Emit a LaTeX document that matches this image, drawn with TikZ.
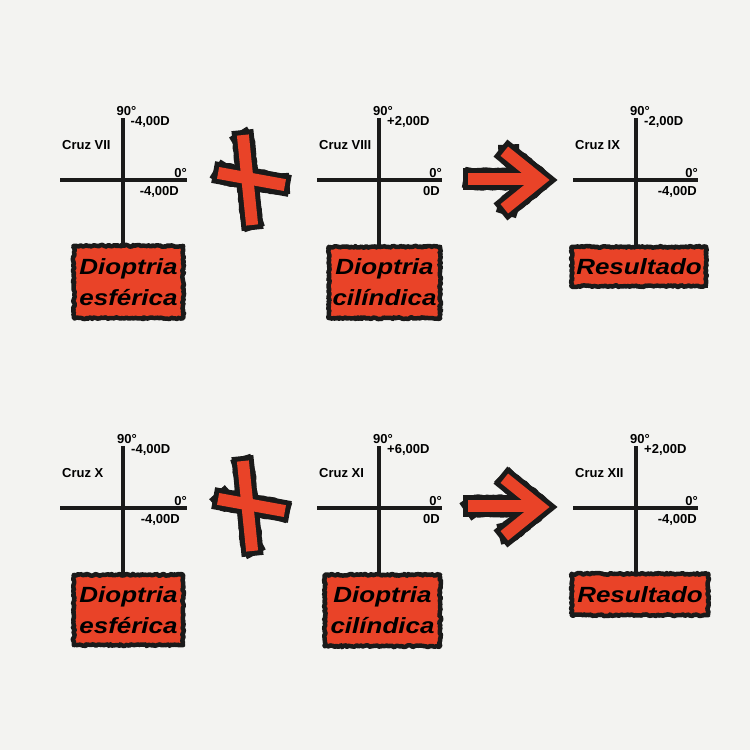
\documentclass[tikz,border=0pt]{standalone}
\usepackage{fontspec}
\usepackage{graphicx}
\setmainfont{Liberation Sans}
\usetikzlibrary{decorations.pathmorphing}

\definecolor{paper}{RGB}{243,243,241}
\definecolor{signred}{RGB}{233,67,40}
\definecolor{ink}{RGB}{26,26,26}

\tikzset{
  axis/.style={draw=ink, line width=4pt},
  lbl/.style={font=\fontsize{13}{15}\selectfont\bfseries, inner sep=0pt, text=black},
  tagbox/.style={fill=signred, inner sep=0pt, align=center,
    font=\fontsize{22}{31}\selectfont\bfseries\itshape},
  roughedge/.style={draw=ink, line width=4.5pt, line join=round,
    decorate, decoration={random steps, segment length=1.6pt, amplitude=0.9pt}},
  rim/.style={draw=ink, line width=22pt, line cap=rect, line join=miter},
  fuzz/.style={draw=ink, line width=21pt, line cap=rect, line join=round,
    decorate, decoration={random steps, segment length=1.5pt, amplitude=1.3pt}},
  core/.style={draw=signred, line width=12pt, line cap=rect, line join=miter},
}

% one lens cross: #1 id, #2 centre x, #3 centre y, #4 left end, #5 right end,
% #6 name, #7 value at 90 deg, #8 value at 0 deg, #9 right edge of that value
\newcommand\lenscross[9]{%
  \coordinate (#1c) at (#2,#3);
  \coordinate (#1l) at (#4,#3);
  \coordinate (#1r) at (#5,#3);
  \coordinate (#1t) at (#2,#3-62);
  \draw[axis] (#1l) -- (#1r);
  \node[lbl, anchor=base west] (#1a) at (#2-6,#3-65) {90°};
  \node[lbl, anchor=base west] (#1v) at (#2+8,#3-54.5) {#7};
  \node[lbl, anchor=base west] (#1n) at (#4+2,#3-31) {#6};
  \node[lbl, anchor=base east] (#1z) at (#5,#3-3) {0°};
  \node[lbl, anchor=base east] (#1h) at (#9,#3+15) {#8};
}

% red sign with a rough black rim: #1 id, #2 centre, #3 width, #4 height, #5 text
\newcommand\signbox[5]{%
  \node[tagbox, minimum width=#3, minimum height=#4] (#1) at (#2) {#5};
  \draw[roughedge] (#1.north west) rectangle (#1.south east);
}

\newcommand\wide[1]{\scalebox{1.18}[1]{#1}}

\begin{document}
\begin{tikzpicture}[x=1pt, y=-1pt]
  \fill[paper] (0,0) rectangle (750,750);
  \useasboundingbox (0,0) rectangle (750,750);

  % ---- upper row ----
  \lenscross{A}{122.5}{180}{60}{187}{Cruz VII}{-4,00D}{-4,00D}{179}
  \lenscross{B}{379}{180}{317}{442}{Cruz VIII}{+2,00D}{0D}{440}
  \lenscross{C}{636}{180}{573}{698}{Cruz IX}{-2,00D}{-4,00D}{697}

  \signbox{sA}{128.5,282}{109pt}{72pt}{\wide{Dioptria}\\\wide{esférica}}
  \signbox{sB}{384.5,282.5}{111pt}{71pt}{\wide{Dioptria}\\\wide{cilíndica}}
  \signbox{sC}{639,266.5}{134pt}{39pt}{\wide{Resultado}}

  \draw[axis] (At) -- (At |- sA.north);
  \draw[axis] (Bt) -- (Bt |- sB.north);
  \draw[axis] (Ct) -- (Ct |- sC.north);

  % ---- lower row ----
  \lenscross{D}{123}{508}{60}{187}{Cruz X}{-4,00D}{-4,00D}{180}
  \lenscross{E}{379}{508}{317}{442}{Cruz XI}{+6,00D}{0D}{440}
  \lenscross{F}{636}{508}{573}{698}{Cruz XII}{+2,00D}{-4,00D}{697}

  \signbox{sD}{128.5,610}{109pt}{70pt}{\wide{Dioptria}\\\wide{esférica}}
  \signbox{sE}{382.5,610.5}{115pt}{71pt}{\wide{Dioptria}\\\wide{cilíndica}}
  \signbox{sF}{640,594.5}{136pt}{41pt}{\wide{Resultado}}

  \draw[axis] (Dt) -- (Dt |- sD.north);
  \draw[axis] (Et) -- (Et |- sE.north);
  \draw[axis] (Ft) -- (Ft |- sF.north);

  % ---- plus signs ----
  \foreach \dy in {0,326} {
    \begin{scope}[yshift=-\dy pt]
      \draw[rim]  (243.5,141) -- (251.5,219);
      \draw[rim]  (224,174) -- (279,184);
      \draw[fuzz] (243.5,141) -- (251.5,219);
      \draw[fuzz] (224,174) -- (279,184);
      \draw[core] (243.5,141) -- (251.5,219);
      \draw[core] (224,174) -- (279,184);
    \end{scope}
  }

  % ---- arrows ----
  \foreach \dy in {0,327} {
    \begin{scope}[yshift=-\dy pt]
      \draw[rim]  (474,179) -- (530,179);
      \draw[rim]  (509,155) -- (540,180) -- (509,205);
      \draw[fuzz] (474,179) -- (530,179);
      \draw[fuzz] (509,155) -- (540,180) -- (509,205);
      \draw[core] (474,179) -- (530,179);
      \draw[core] (509,155) -- (540,180) -- (509,205);
    \end{scope}
  }
\end{tikzpicture}
\end{document}
